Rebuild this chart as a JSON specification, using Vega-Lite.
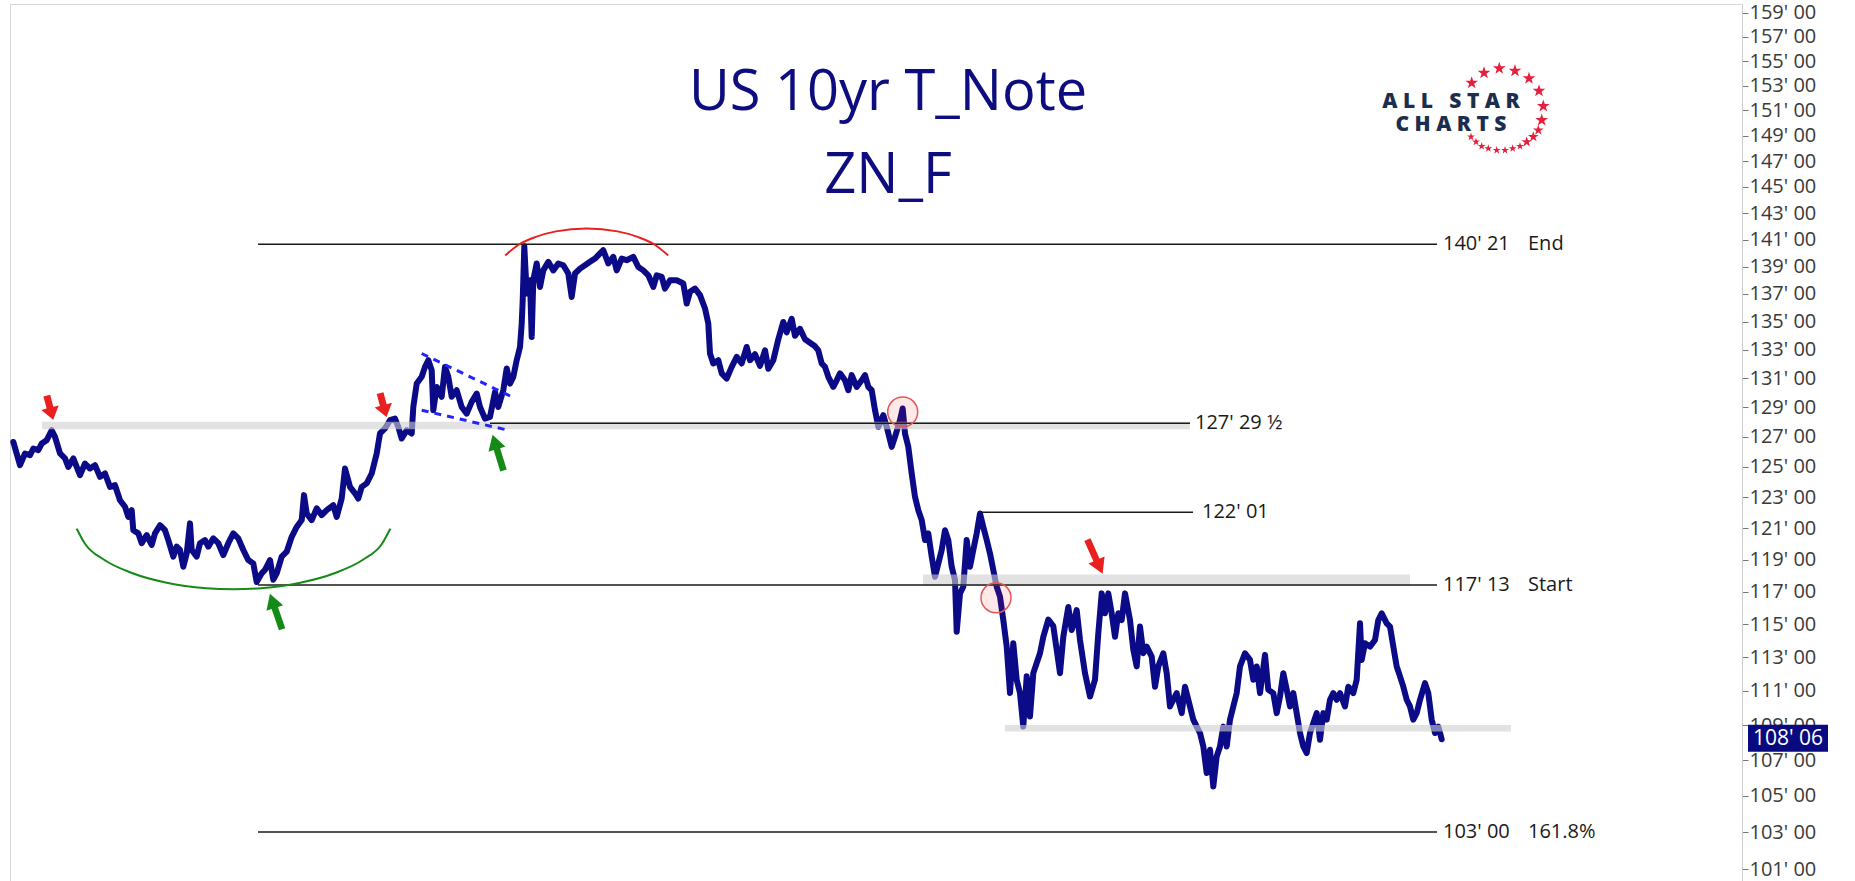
{
  "$schema": "https://vega.github.io/schema/vega-lite/v6.json",
  "width": 1732,
  "height": 877,
  "autosize": {"type": "none"},
  "padding": {"left": 10, "top": 4, "right": 113, "bottom": 0},
  "background": "white",
  "config": {"view": {"stroke": "#d6d6d6", "strokeWidth": 1}, "font": "Open Sans"},
  "datasets": {
    "zn": [
      {"session":13.3,"price":126.66},{"session":20,"price":125.11},{"session":25,"price":125.89},{"session":30,"price":125.77},{"session":33.3,"price":126.22},{"session":38.3,"price":126.11},{"session":41.7,"price":126.55},{"session":46.7,"price":126.78},{"session":51.7,"price":127.45},{"session":55,"price":127.00},{"session":60,"price":125.89},{"session":65,"price":125.56},{"session":68.3,"price":124.99},{"session":73.3,"price":125.56},{"session":80,"price":124.45},{"session":85,"price":125.22},{"session":90,"price":124.89},{"session":95,"price":125.11},{"session":100,"price":124.34},{"session":105,"price":124.56},{"session":110,"price":123.68},{"session":115,"price":123.79},{"session":120,"price":122.81},{"session":125,"price":122.38},{"session":128.3,"price":121.73},{"session":131.7,"price":122.16},{"session":133.3,"price":120.87},{"session":138.3,"price":120.67},{"session":141.7,"price":120.04},{"session":146.7,"price":120.56},{"session":151.7,"price":119.93},{"session":155,"price":120.67},{"session":160,"price":121.19},{"session":165,"price":120.87},{"session":168.3,"price":120.24},{"session":173.3,"price":119.19},{"session":176.7,"price":119.82},{"session":180,"price":119.61},{"session":183.3,"price":118.55},{"session":186.7,"price":119.39},{"session":190,"price":121.31},{"session":191.7,"price":119.61},{"session":196.7,"price":119.19},{"session":200,"price":120.04},{"session":205,"price":120.24},{"session":208.3,"price":119.82},{"session":213.3,"price":120.35},{"session":218.3,"price":120.04},{"session":223.3,"price":119.29},{"session":228.3,"price":120.04},{"session":233.3,"price":120.67},{"session":238.3,"price":120.35},{"session":243.3,"price":119.61},{"session":248.3,"price":118.97},{"session":253.3,"price":118.76},{"session":256.7,"price":117.60},{"session":261.7,"price":118.14},{"session":265,"price":118.35},{"session":270,"price":118.97},{"session":273.3,"price":117.74},{"session":276.7,"price":118.14},{"session":281.7,"price":119.19},{"session":286.7,"price":119.50},{"session":291.7,"price":120.45},{"session":296.7,"price":121.08},{"session":301.7,"price":121.52},{"session":304,"price":123.14},{"session":306.7,"price":121.95},{"session":311.7,"price":121.52},{"session":316.7,"price":122.28},{"session":321.7,"price":121.84},{"session":326.7,"price":122.16},{"session":333.3,"price":122.48},{"session":336.7,"price":121.73},{"session":341.7,"price":122.92},{"session":345,"price":124.89},{"session":350,"price":123.68},{"session":355,"price":123.25},{"session":358.3,"price":122.92},{"session":361.7,"price":123.68},{"session":366.7,"price":123.91},{"session":371.7,"price":124.56},
      {"session":376.7,"price":125.89},{"session":380,"price":127.23},{"session":385,"price":127.57},{"session":390,"price":128.13},{"session":395,"price":128.24},{"session":398.3,"price":127.67},{"session":401.7,"price":126.89},{"session":406.7,"price":127.45},{"session":411.7,"price":127.23},{"session":413.3,"price":129.03},{"session":416.7,"price":130.64},{"session":421.7,"price":131.11},{"session":425,"price":131.80},{"session":428.3,"price":132.27},{"session":431.7,"price":131.57},{"session":433.3,"price":128.81},{"session":436.7,"price":130.41},{"session":441.7,"price":129.73},{"session":445,"price":131.80},{"session":448.3,"price":131.11},{"session":451.7,"price":129.73},{"session":456.7,"price":130.18},{"session":461.7,"price":129.03},{"session":466.7,"price":128.58},{"session":471.7,"price":129.38},{"session":476.7,"price":129.95},{"session":480,"price":129.03},{"session":485,"price":128.24},{"session":490,"price":128.35},{"session":495,"price":130.06},{"session":498.3,"price":129.03},{"session":503.3,"price":130.18},{"session":506.7,"price":131.69},{"session":510,"price":130.64},{"session":513.3,"price":131.11},{"session":516.7,"price":132.27},{"session":520,"price":133.20},{"session":521.7,"price":134.86},{"session":522.7,"price":136.54},{"session":524.3,"price":140.50},{"session":526.7,"price":137.03},{"session":530,"price":138.00},{"session":531.7,"price":133.91},{"session":533.3,"price":138.00},{"session":536.7,"price":139.23},{"session":540,"price":137.51},{"session":543.3,"price":138.72},{"session":548.3,"price":139.35},{"session":553.3,"price":138.72},{"session":558.3,"price":139.23},{"session":563.3,"price":139.10},{"session":568.3,"price":138.49},{"session":571.7,"price":136.78},{"session":575,"price":138.49},{"session":580,"price":138.85},{"session":585,"price":139.10},{"session":590,"price":139.35},{"session":595,"price":139.59},{"session":600,"price":139.97},{"session":603.3,"price":140.21},{"session":608.3,"price":139.23},{"session":613.3,"price":139.72},{"session":616.7,"price":138.72},{"session":621.7,"price":139.59},{"session":626.7,"price":139.47},{"session":633.3,"price":139.72},{"session":638.3,"price":138.97},{"session":643.3,"price":138.72},{"session":648.3,"price":138.36},{"session":653.3,"price":137.51},{"session":656.7,"price":138.36},{"session":661.7,"price":138.24},{"session":665,"price":137.39},{"session":670,"price":138.00},{"session":676.7,"price":138.00},{"session":683.3,"price":137.76},{"session":686.7,"price":136.30},{"session":690,"price":137.15},{"session":695,"price":137.39},{"session":700,"price":136.91},{"session":705,"price":135.95},{"session":708.3,"price":134.86},{"session":710,"price":132.74},{"session":713.3,"price":132.04},{"session":718.3,"price":132.27},{"session":721.7,"price":131.35},{"session":726.7,"price":130.99},{"session":731.7,"price":131.80},{"session":736.7,"price":132.50},{"session":741.7,"price":132.04},{"session":746.7,"price":133.20},{"session":750,"price":132.27},
      {"session":755,"price":132.69},{"session":760,"price":131.87},{"session":765,"price":132.96},{"session":768.3,"price":131.67},{"session":773.3,"price":132.27},{"session":778.3,"price":133.75},{"session":783.3,"price":134.98},{"session":786.7,"price":134.24},{"session":791.7,"price":135.21},{"session":795,"price":133.99},{"session":800,"price":134.49},{"session":805,"price":133.75},{"session":810,"price":133.50},{"session":815,"price":133.25},{"session":818.3,"price":132.96},{"session":821.7,"price":132.04},{"session":825,"price":131.80},{"session":828.3,"price":131.11},{"session":833.3,"price":130.41},{"session":836.7,"price":130.87},{"session":840,"price":131.35},{"session":845,"price":130.87},{"session":848.3,"price":130.18},{"session":851.7,"price":131.23},{"session":856.7,"price":130.41},{"session":861.7,"price":130.87},{"session":865,"price":131.23},{"session":868.3,"price":130.41},{"session":871.7,"price":130.18},{"session":875,"price":128.81},{"session":878.3,"price":127.68},{"session":883.3,"price":128.47},{"session":886.7,"price":127.68},{"session":891.7,"price":126.33},{"session":895,"price":127.00},{"session":900,"price":128.13},{"session":902.7,"price":128.93},{"session":905,"price":127.23},{"session":908.3,"price":126.33},{"session":911.7,"price":124.56},{"session":915,"price":123.03},{"session":918.3,"price":122.16},{"session":921.7,"price":121.52},{"session":925,"price":120.24},{"session":928.3,"price":120.67},{"session":931.7,"price":119.19},{"session":935,"price":117.93},{"session":938.3,"price":118.76},{"session":941.7,"price":119.61},{"session":945,"price":120.87},{"session":948.3,"price":120.24},{"session":951.7,"price":118.55},{"session":955,"price":117.72},{"session":956.7,"price":114.54},{"session":960,"price":116.89},{"session":963.3,"price":117.30},{"session":966.7,"price":120.24},{"session":970,"price":118.55},{"session":973.3,"price":119.61},{"session":976.7,"price":120.67},{"session":980,"price":121.95},{"session":983.3,"price":121.08},{"session":986.7,"price":120.24},{"session":990,"price":119.39},{"session":993.3,"price":118.35},{"session":996.7,"price":117.30},{"session":1000,"price":116.69},
      {"session":1003.3,"price":115.25},{"session":1006.7,"price":113.64},{"session":1010,"price":110.87},{"session":1013.3,"price":113.84},{"session":1016.7,"price":111.66},{"session":1020,"price":110.87},{"session":1023.3,"price":108.92},{"session":1026.7,"price":111.86},{"session":1030,"price":109.51},{"session":1033.3,"price":112.05},{"session":1036.7,"price":112.65},{"session":1040,"price":113.24},{"session":1043.3,"price":114.23},{"session":1048.3,"price":115.28},{"session":1053.3,"price":114.88},{"session":1056.7,"price":113.45},{"session":1060,"price":112.05},{"session":1063.3,"price":114.23},{"session":1068.3,"price":116.05},{"session":1071.7,"price":114.64},{"session":1076.7,"price":115.86},{"session":1080,"price":114.04},{"session":1085,"price":112.05},{"session":1090,"price":110.67},{"session":1095,"price":111.66},{"session":1098.3,"price":114.44},{"session":1101.7,"price":116.89},{"session":1105,"price":115.66},{"session":1108.3,"price":116.89},{"session":1111.7,"price":115.66},{"session":1115,"price":114.23},{"session":1118.3,"price":115.66},{"session":1121.7,"price":115.25},{"session":1125,"price":116.89},{"session":1130,"price":115.25},{"session":1133.3,"price":113.45},{"session":1136.7,"price":112.45},{"session":1140,"price":114.85},{"session":1143.3,"price":113.24},{"session":1146.7,"price":113.64},{"session":1151.7,"price":113.04},{"session":1155,"price":111.25},{"session":1158.3,"price":112.45},{"session":1163.3,"price":113.24},{"session":1166.7,"price":112.05},{"session":1170,"price":110.09},{"session":1173.3,"price":110.48},{"session":1176.7,"price":110.87},{"session":1181.7,"price":109.70},{"session":1185,"price":111.25},{"session":1190,"price":110.09},{"session":1193.3,"price":109.32},{"session":1196.7,"price":108.92},{"session":1200,"price":108.55},{"session":1203.3,"price":107.78},{"session":1206.7,"price":106.27},{"session":1210,"price":107.59},{"session":1213.3,"price":105.52},{"session":1216.7,"price":107.21},{"session":1220,"price":107.78},{"session":1223.3,"price":108.92},{"session":1226.7,"price":107.78},{"session":1230,"price":109.32},{"session":1233.3,"price":110.09},{"session":1236.7,"price":110.87},{"session":1240,"price":112.45},{"session":1245,"price":113.24},{"session":1250,"price":112.84},{"session":1253.3,"price":111.66},{"session":1256.7,"price":112.45},{"session":1260,"price":110.87},{"session":1265,"price":113.14},{"session":1268.3,"price":111.07},{"session":1273.3,"price":110.87},{"session":1276.7,"price":109.70},{"session":1280,"price":110.67},{"session":1283.3,"price":112.05},{"session":1286.7,"price":111.07},{"session":1290,"price":110.09},{"session":1293.3,"price":110.87},{"session":1296.7,"price":109.70},{"session":1300,"price":108.55},{"session":1303.3,"price":107.78},{"session":1306.7,"price":107.40},{"session":1310,"price":108.55},{"session":1313.3,"price":109.12},{"session":1316.7,"price":109.70},{"session":1320,"price":108.16},{"session":1323.3,"price":109.70},{"session":1326.7,"price":109.32},{"session":1330,"price":110.48},{"session":1333.3,"price":110.87},{"session":1336.7,"price":110.48},{"session":1340,"price":110.87},{"session":1345,"price":110.09},{"session":1348.3,"price":111.25},{"session":1353.3,"price":110.87},{"session":1356.7,"price":111.66},{"session":1360,"price":115.05},{"session":1361.7,"price":112.84},{"session":1365,"price":113.84},{"session":1370,"price":113.64},{"session":1375,"price":114.04},{"session":1378.3,"price":115.25},{"session":1381.7,"price":115.66},{"session":1386.7,"price":115.05},{"session":1390,"price":114.85},{"session":1393.3,"price":113.64},{"session":1396.7,"price":112.45},{"session":1400,"price":111.86},{"session":1403.3,"price":111.25},{"session":1406.7,"price":110.48},{"session":1410,"price":110.09},{"session":1413.3,"price":109.32},{"session":1416.7,"price":109.70},{"session":1420,"price":110.48},{"session":1425,"price":111.46},{"session":1428.3,"price":110.87},{"session":1431.7,"price":109.32},{"session":1435,"price":108.55},{"session":1438.3,"price":108.92},{"session":1441.7,"price":108.19}
    ],
    "levels": [
      {"session":258,"session_end":1437,"price":140.656},
      {"session":490,"session_end":1190,"price":127.92},
      {"session":981,"session_end":1193,"price":122.03},
      {"session":258,"session_end":1437,"price":117.406},
      {"session":258,"session_end":1437,"price":103.0}
    ],
    "bands": [
      {"session":42,"session_end":1190,"price":127.51,"price_top":128.02},
      {"session":923,"session_end":1410,"price":117.35,"price_top":118.07},
      {"session":1005,"session_end":1511,"price":108.64,"price_top":109.01}
    ],
    "flag": [
      {"seg":"upper","session":421.7,"price":132.74},{"seg":"upper","session":515,"price":129.62},
      {"seg":"lower","session":421.7,"price":128.81},{"seg":"lower","session":505,"price":127.50}
    ],
    "arcs": [
      {"arc":"top","signal":"bearish","k":1,"session":505.2,"price":139.82},{"arc":"top","signal":"bearish","k":2,"session":517.8,"price":140.58},{"arc":"top","signal":"bearish","k":3,"session":535.1,"price":141.19},{"arc":"top","signal":"bearish","k":4,"session":555.9,"price":141.62},{"arc":"top","signal":"bearish","k":5,"session":586.7,"price":141.84},{"arc":"top","signal":"bearish","k":6,"session":617.5,"price":141.62},{"arc":"top","signal":"bearish","k":7,"session":638.3,"price":141.19},{"arc":"top","signal":"bearish","k":8,"session":655.6,"price":140.58},{"arc":"top","signal":"bearish","k":9,"session":668.2,"price":139.82},
      {"arc":"bottom","signal":"bullish","k":1,"session":76.7,"price":120.97},{"arc":"bottom","signal":"bullish","k":2,"session":85.0,"price":120.01},{"arc":"bottom","signal":"bullish","k":3,"session":104.1,"price":118.99},{"arc":"bottom","signal":"bullish","k":4,"session":131.9,"price":118.16},{"arc":"bottom","signal":"bullish","k":5,"session":166.7,"price":117.55},{"arc":"bottom","signal":"bullish","k":6,"session":206.1,"price":117.21},{"arc":"bottom","signal":"bullish","k":7,"session":233.5,"price":117.14},{"arc":"bottom","signal":"bullish","k":8,"session":260.9,"price":117.21},{"arc":"bottom","signal":"bullish","k":9,"session":300.3,"price":117.55},{"arc":"bottom","signal":"bullish","k":10,"session":335.1,"price":118.16},{"arc":"bottom","signal":"bullish","k":11,"session":362.9,"price":118.99},{"arc":"bottom","signal":"bullish","k":12,"session":382.0,"price":120.01},{"arc":"bottom","signal":"bullish","k":13,"session":390.3,"price":120.97}
    ],
    "rings": [
      {"session":902.7,"price":128.69},
      {"session":996,"price":116.62}
    ],
    "arrows_short": [
      {"signal":"bearish","session":50,"price":128.98,"heading":165},
      {"signal":"bearish","session":383.3,"price":129.16,"heading":165}
    ],
    "arrows_long": [
      {"signal":"bearish","session":1095,"price":119.19,"heading":156},
      {"signal":"bullish","session":276,"price":115.77,"heading":341},
      {"signal":"bullish","session":498,"price":125.94,"heading":343}
    ],
    "labels": [
      {"session":1443,"price":140.656,"label":"140' 21"},
      {"session":1528,"price":140.656,"label":"End"},
      {"session":1195,"price":127.92,"label":"127' 29 ½"},
      {"session":1202,"price":122.03,"label":"122' 01"},
      {"session":1443,"price":117.406,"label":"117' 13"},
      {"session":1528,"price":117.406,"label":"Start"},
      {"session":1443,"price":103.0,"label":"103' 00"},
      {"session":1528,"price":103.0,"label":"161.8%"}
    ],
    "titles": [
      {"session":888,"price":151.02,"label":"US 10yr T_Note"},
      {"session":888,"price":144.52,"label":"ZN_F"}
    ],
    "logo": [
      {"session":1451,"price":151.18,"label":"A L L \u00a0 S T A R"},
      {"session":1451,"price":149.34,"label":"C H A R T S"}
    ],
    "stars": [
      {"tier":"large","session":1471.7,"price":153.22},{"tier":"large","session":1484,"price":154.03},{"tier":"large","session":1499.3,"price":154.40},{"tier":"large","session":1515,"price":154.20},{"tier":"large","session":1529,"price":153.58},{"tier":"large","session":1539,"price":152.57},{"tier":"large","session":1543.3,"price":151.34},{"tier":"large","session":1541.7,"price":150.22},
      {"tier":"medium","session":1538.3,"price":149.42},{"tier":"medium","session":1533.3,"price":148.90},{"tier":"medium","session":1526.7,"price":148.50},
      {"tier":"small","session":1520,"price":148.16},{"tier":"small","session":1512.7,"price":147.98},{"tier":"small","session":1505,"price":147.84},{"tier":"small","session":1496.7,"price":147.84},{"tier":"small","session":1488.3,"price":147.98},{"tier":"small","session":1481.7,"price":148.16},{"tier":"small","session":1476,"price":148.50},{"tier":"small","session":1471,"price":148.90}
    ],
    "tag": [
      {"session":1748,"session_end":1828,"price":107.48,"price_top":109.02,"mid":1788,"last":108.19,"label":"108' 06"}
    ]
  },
  "encoding": {
    "x": {"field":"session","type":"quantitative","scale":{"type":"linear","domain":[10,1742],"nice":false,"zero":false},"axis":null},
    "y": {"field":"price","type":"quantitative","scale":{"type":"log","domain":[100.36,159.76],"nice":false,"zero":false},
      "axis":{"orient":"right","title":null,"grid":false,"values":[101,103,105,107,109,111,113,115,117,119,121,123,125,127,129,131,133,135,137,139,141,143,145,147,149,151,153,155,157,159],
        "labelExpr":"format(datum.value, 'd') + \"' 00\"","labelFontSize":20,"labelFont":"Open Sans","labelColor":"#3a3a3a","labelPadding":1,"labelOverlap":false,"labelBound":false,"labelFlush":false,"tickSize":6,"tickColor":"#777","tickWidth":1,"domainColor":"#cccccc","domainWidth":1}}
  },
  "layer": [
    {"data":{"name":"zn"},"mark":{"type":"line","color":"#0b0b87","strokeWidth":6,"strokeJoin":"round","strokeCap":"round"}},
    {"data":{"name":"bands"},"mark":{"type":"rect","color":"#cfcfcf","opacity":0.6},"encoding":{"x2":{"field":"session_end"},"y2":{"field":"price_top"}}},
    {"data":{"name":"levels"},"mark":{"type":"rule","color":"#1a1a1a","strokeWidth":1.5},"encoding":{"x2":{"field":"session_end"}}},
    {"data":{"name":"flag"},"mark":{"type":"line","color":"#2323ff","strokeWidth":3,"strokeDash":[7,6]},"encoding":{"detail":{"field":"seg"}}},
    {"data":{"name":"arcs"},"mark":{"type":"line","strokeWidth":2,"interpolate":"monotone"},"encoding":{"detail":{"field":"arc"},"order":{"field":"k"},"color":{"field":"signal","type":"nominal","scale":{"domain":["bearish","bullish"],"range":["#ea1f1f","#168a16"]},"legend":null}}},
    {"data":{"name":"rings"},"mark":{"type":"point","shape":"circle","size":900,"filled":true,"fill":"#ff2020","fillOpacity":0.1,"stroke":"#e25858","strokeWidth":1.5,"opacity":1}},
    {"data":{"name":"arrows_short"},"mark":{"type":"point","shape":"M-0.28,1L0.28,1L0.28,0L0.72,0L0,-1L-0.72,0L-0.28,0Z","size":620,"filled":true,"opacity":1,"strokeWidth":0},"encoding":{"angle":{"field":"heading","type":"quantitative","scale":null},"color":{"field":"signal","type":"nominal","legend":null}}},
    {"data":{"name":"arrows_long"},"mark":{"type":"point","shape":"M-0.18,1L0.18,1L0.18,-0.2L0.47,-0.2L0,-1L-0.47,-0.2L-0.18,-0.2Z","size":1400,"filled":true,"opacity":1,"strokeWidth":0},"encoding":{"angle":{"field":"heading","type":"quantitative","scale":null},"color":{"field":"signal","type":"nominal","legend":null}}},
    {"data":{"name":"labels"},"mark":{"type":"text","align":"left","baseline":"middle","fontSize":20,"font":"Open Sans","color":"#1a1a1a"},"encoding":{"text":{"field":"label"}}},
    {"data":{"name":"titles"},"mark":{"type":"text","align":"center","baseline":"alphabetic","fontSize":56,"font":"Open Sans","color":"#0d0d80"},"encoding":{"text":{"field":"label"}}},
    {"data":{"name":"logo"},"mark":{"type":"text","align":"center","baseline":"alphabetic","fontSize":21,"font":"Open Sans","fontWeight":800,"color":"#1c2e4e"},"encoding":{"text":{"field":"label"}}},
    {"data":{"name":"stars"},"mark":{"type":"point","shape":"M0,-1L0.2245,-0.309L0.951,-0.309L0.363,0.118L0.588,0.809L0,0.382L-0.588,0.809L-0.363,0.118L-0.951,-0.309L-0.2245,-0.309Z","filled":true,"color":"#e51f3c","opacity":1,"strokeWidth":0},"encoding":{"size":{"field":"tier","type":"ordinal","scale":{"domain":["large","medium","small"],"range":[180,70,22]},"legend":null}}},
    {"data":{"name":"tag"},"mark":{"type":"rect","color":"#0a0a80"},"encoding":{"x2":{"field":"session_end"},"y2":{"field":"price_top"}}},
    {"data":{"name":"tag"},"mark":{"type":"text","align":"center","baseline":"middle","fontSize":21,"font":"Open Sans","color":"#ffffff"},"encoding":{"x":{"field":"mid","type":"quantitative"},"y":{"field":"last","type":"quantitative"},"text":{"field":"label"}}}
  ]
}
